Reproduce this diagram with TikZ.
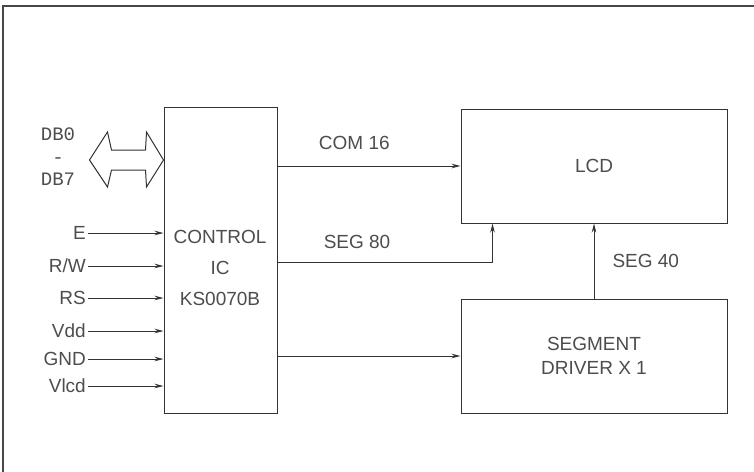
\documentclass[tikz,border=0pt]{standalone}
\usepackage{fontspec}
\setmainfont{Liberation Sans}
\newfontfamily\busfont{Liberation Mono}
\usetikzlibrary{positioning,arrows.meta}

\definecolor{bdline}{HTML}{333333}
\definecolor{bdtext}{HTML}{4D4D4D}

\newcommand{\blockWideWidth}{266pt}
\newcommand{\blockWideHeight}{114pt}
\newcommand{\blockCtrlWidth}{113pt}
\newcommand{\blockCtrlHeight}{306pt}
\newcommand{\blockVGap}{75pt}
\tikzset{
  bd base/.style={font=\fontsize{19}{24}\selectfont, text=bdtext},
  bd line/.style={line width=1pt, draw=bdline, line join=miter},
  bd arrow/.style={bd line, -{Stealth[length=9pt,width=4.5pt]}},
  bd box/.style={draw=bdline, line width=1pt, rectangle, align=center,
    fill=white, inner sep=0pt},
  bd pin/.style={inner sep=2pt, anchor=east, text height=13.5pt, text depth=0pt},
  bd signal/.style={inner sep=0pt, text height=13.5pt, text depth=0pt},
  bd frame/.style={line width=2pt, draw=bdline!90},
}

\begin{document}
\begin{tikzpicture}[x=1pt, y=-1pt, bd base]
\useasboundingbox (0,0) rectangle (754,471);
\draw [bd frame] (3,6) rectangle (790,500);

% blocks
\node (ctrl) [bd box, minimum width=\blockCtrlWidth, minimum height=\blockCtrlHeight]
  at (220.5,260) {};
\node (ctrltext) [align=center, font=\fontsize{19}{31}\selectfont] at (220,268)
  {CONTROL\\IC\\KS0070B};
\node (lcd) [bd box, minimum width=\blockWideWidth, minimum height=\blockWideHeight]
  at (594,166) {LCD};
\node (seg) [bd box, minimum width=\blockWideWidth, minimum height=\blockWideHeight,
  below=\blockVGap of lcd] {SEGMENT\\DRIVER X 1};

% data bus
\node (bus) [inner sep=0pt, align=center, font=\busfont\fontsize{19}{22.5}\selectfont]
  at (58,157) {DB0\\-\\DB7};
\coordinate (busend) at (ctrl.west |- 0,160);
\draw [bd line] (busend) -- ++(-17,27) -- ++(-1,-17) -- ++(-34,0) -- ++(-4,17)
  -- ++(-18,-27) -- ++(18,-28) -- ++(4,18) -- ++(34,0) -- ++(1,-18) -- cycle;

% control pins
\node (pinE)   [bd pin] at (88,233) {E};
\node (pinRW)  [bd pin] at (88,266) {R/W};
\node (pinRS)  [bd pin] at (88,298) {RS};
\node (pinVdd) [bd pin] at (88,331) {Vdd};
\node (pinGND) [bd pin] at (88,359) {GND};
\node (pinVlc) [bd pin] at (88,386) {Vlcd};

\draw [bd arrow] (pinE)   -- (pinE -| ctrl.west);
\draw [bd arrow] (pinRW)  -- (pinRW -| ctrl.west);
\draw [bd arrow] (pinRS)  -- (pinRS -| ctrl.west);
\draw [bd arrow] (pinVdd) -- (pinVdd -| ctrl.west);
\draw [bd arrow] (pinGND) -- (pinGND -| ctrl.west);
\draw [bd arrow] (pinVlc) -- (pinVlc -| ctrl.west);

% outputs
\coordinate (seg80in)  at ([xshift=32pt]lcd.south west);
\coordinate (seg80out) at (ctrl.east |- 0,262);
\draw [bd arrow] (ctrl.east |- lcd.west) --
  node [bd signal, pos=0.42, above=16pt] {COM 16} (lcd.west);
\draw [bd arrow] (seg80out) -|
  node [bd signal, pos=0.185, above=13pt] {SEG 80} (seg80in);
\draw [bd arrow] (ctrl.east |- seg.west) -- (seg.west);
\draw [bd arrow] (seg.north) --
  node [bd signal, right=18pt] {SEG 40} (lcd.south -| seg.north);
\end{tikzpicture}
\end{document}
